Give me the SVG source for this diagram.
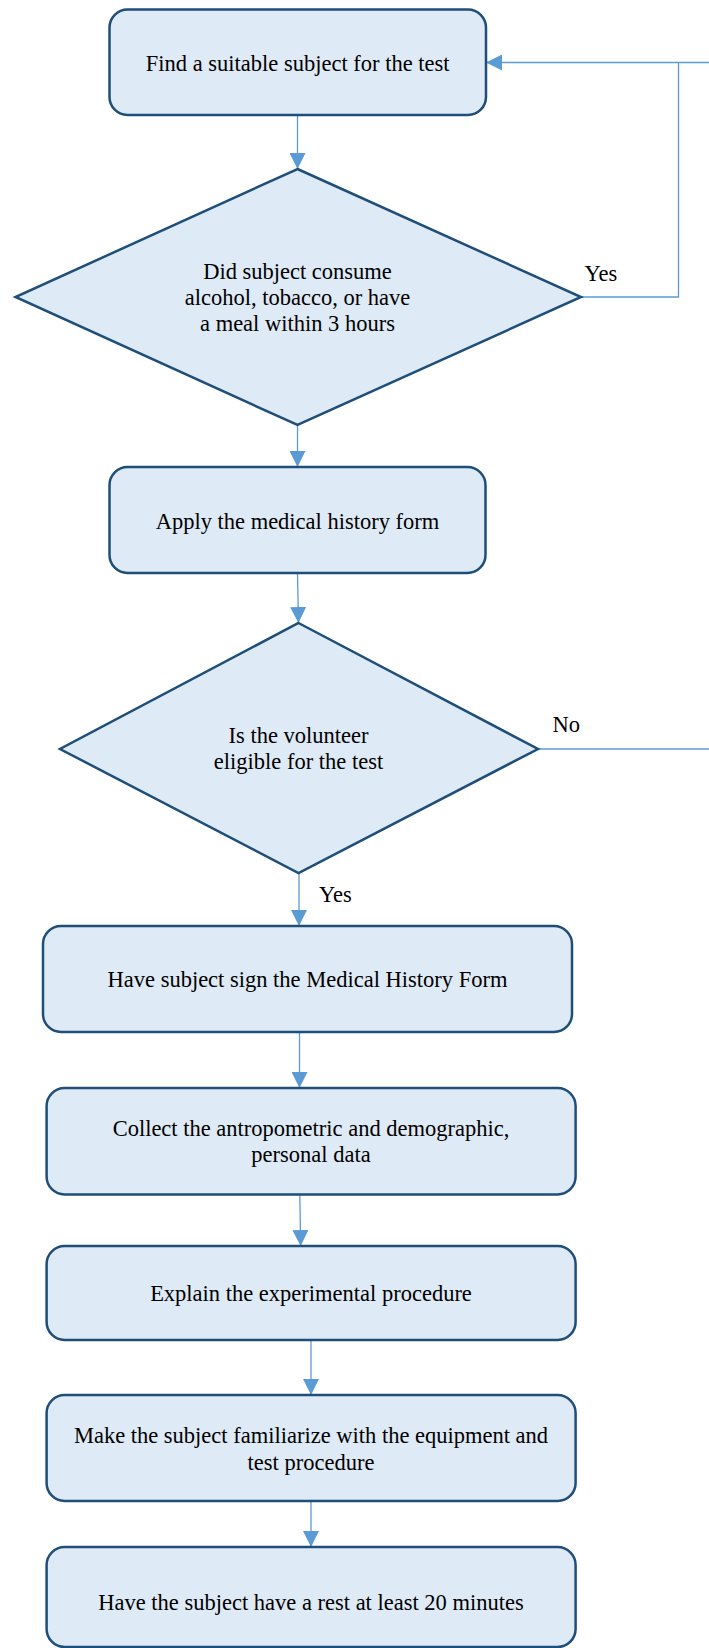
<svg xmlns="http://www.w3.org/2000/svg" width="709" height="1648" viewBox="0 0 709 1648">
<defs>
<style>
.node{fill:#DEEAF6;stroke:#1F4E79;stroke-width:2.5}
.t{font-family:"Liberation Serif","Times New Roman",serif;font-size:22.5px;fill:#000;text-anchor:middle}
.lbl{font-family:"Liberation Serif","Times New Roman",serif;font-size:22.5px;fill:#000}
.c{fill:none;stroke:#5B9BD5;stroke-width:1.3}
</style>
<marker id="ah" viewBox="0 0 16 16" refX="16" refY="8" markerWidth="16" markerHeight="16" markerUnits="userSpaceOnUse" orient="auto">
<path d="M0,0 L16,8 L0,16 Z" fill="#5B9BD5"/>
</marker>
</defs>
<rect width="709" height="1648" fill="#fff"/>
<g id="connectors">
<line class="c" x1="297.5" y1="115" x2="297.5" y2="169" marker-end="url(#ah)"/>
<line class="c" x1="297.5" y1="425" x2="297.5" y2="467" marker-end="url(#ah)"/>
<line class="c" x1="297.5" y1="573" x2="298.5" y2="623" marker-end="url(#ah)"/>
<line class="c" x1="299" y1="873" x2="299" y2="926" marker-end="url(#ah)"/>
<line class="c" x1="299.5" y1="1032" x2="299.5" y2="1088" marker-end="url(#ah)"/>
<line class="c" x1="299.8" y1="1195" x2="300.7" y2="1246" marker-end="url(#ah)"/>
<line class="c" x1="311" y1="1340" x2="311" y2="1395" marker-end="url(#ah)"/>
<line class="c" x1="311" y1="1501" x2="311" y2="1547" marker-end="url(#ah)"/>
<polyline class="c" points="581,297 678.5,297 678.5,62.5"/>
<line class="c" x1="709" y1="62.5" x2="486" y2="62.5" marker-end="url(#ah)"/>
<line class="c" x1="538" y1="749" x2="709" y2="749"/>
<text class="lbl" x="584.5" y="281">Yes</text>
<text class="lbl" x="552.5" y="732">No</text>
<text class="lbl" x="319" y="902">Yes</text>
</g>
<g id="n1">
<rect class="node" x="109.5" y="9.5" width="376.5" height="105.5" rx="18"/>
<text class="t" x="297.7" y="71">Find a suitable subject for the test</text>
</g>
<g id="n2">
<polygon class="node" points="297.5,169 581,297 297.5,425 15.5,297"/>
<text class="t" x="297.5" y="279">Did subject consume</text>
<text class="t" x="297.5" y="305">alcohol, tobacco, or have</text>
<text class="t" x="297.5" y="331">a meal within 3 hours</text>
</g>
<g id="n3">
<rect class="node" x="109.5" y="467" width="376" height="106" rx="18"/>
<text class="t" x="297.5" y="529">Apply the medical history form</text>
</g>
<g id="n4">
<polygon class="node" points="298.5,623 538,749 298.5,873 60,749"/>
<text class="t" x="298.5" y="743">Is the volunteer</text>
<text class="t" x="298.5" y="769">eligible for the test</text>
</g>
<g id="n5">
<rect class="node" x="43" y="926" width="529" height="106" rx="18"/>
<text class="t" x="307.5" y="987">Have subject sign the Medical History Form</text>
</g>
<g id="n6">
<rect class="node" x="46.6" y="1088" width="529" height="106.5" rx="18"/>
<text class="t" x="311" y="1136">Collect the antropometric and demographic,</text>
<text class="t" x="311" y="1162">personal data</text>
</g>
<g id="n7">
<rect class="node" x="46.6" y="1246" width="529" height="94" rx="18"/>
<text class="t" x="311" y="1301">Explain the experimental procedure</text>
</g>
<g id="n8">
<rect class="node" x="46.6" y="1395" width="529" height="106" rx="18"/>
<text class="t" x="311" y="1443">Make the subject familiarize with the equipment and</text>
<text class="t" x="311" y="1470">test procedure</text>
</g>
<g id="n9">
<rect class="node" x="46.6" y="1547" width="529" height="100" rx="18"/>
<text class="t" x="311" y="1610">Have the subject have a rest at least 20 minutes</text>
</g>
</svg>
